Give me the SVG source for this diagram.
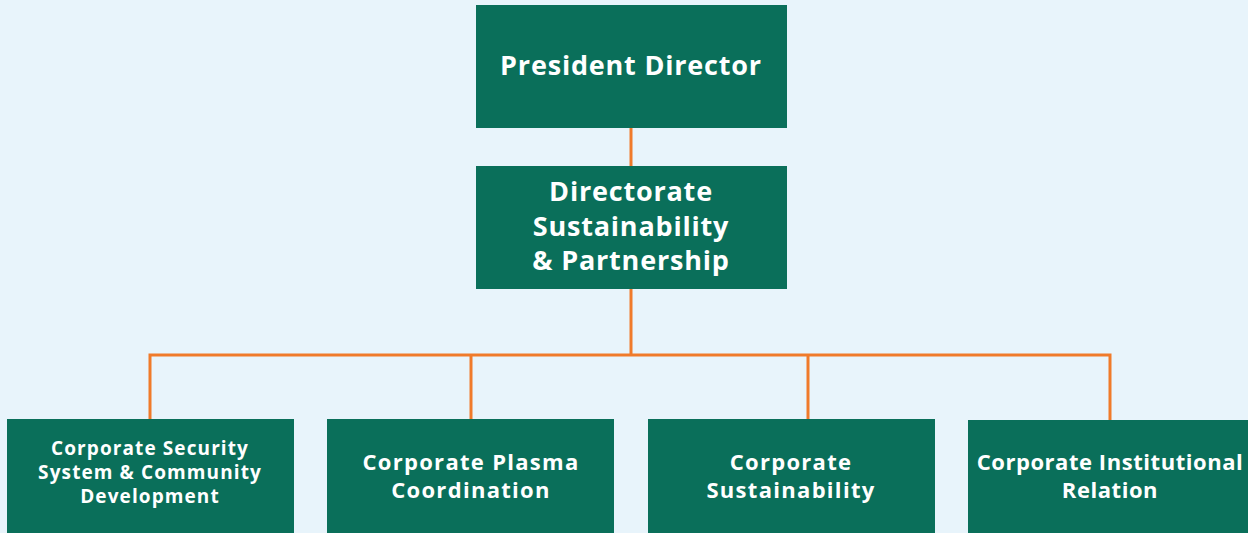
<svg xmlns="http://www.w3.org/2000/svg" width="1248" height="533" viewBox="0 0 1248 533">
<style>
.box{fill:#0a6f5a}
.t{font-family:"Open Sans","Noto Sans",sans-serif;font-weight:700;fill:#ffffff;text-anchor:middle}
.big{font-size:27px;letter-spacing:0.8px}
.mid{font-size:22px;letter-spacing:1.3px}
.inst{font-size:22px;letter-spacing:0.55px}
.sm{font-size:19px;letter-spacing:1.1px}
.c{stroke:#f07a2a;stroke-width:3;fill:none}
</style>
<rect width="1248" height="533" fill="#e8f4fb"/>
<g id="connectors">
<line class="c" x1="631" y1="128" x2="631" y2="166"/>
<line class="c" x1="631" y1="289" x2="631" y2="355"/>
<polyline class="c" points="150,419 150,355 1110,355 1110,420"/>
<line class="c" x1="471" y1="355" x2="471" y2="419"/>
<line class="c" x1="808" y1="355" x2="808" y2="419"/>
</g>
<g id="president">
<rect class="box" x="476" y="5" width="311" height="123"/>
<text class="t big" x="631" y="75">President Director</text>
</g>
<g id="directorate">
<rect class="box" x="476" y="166" width="311" height="123"/>
<text class="t big" x="631" y="201">Directorate</text>
<text class="t big" x="631" y="236">Sustainability</text>
<text class="t big" x="631" y="270">&amp; Partnership</text>
</g>
<g id="security">
<rect class="box" x="7" y="419" width="287" height="114"/>
<text class="t sm" x="150" y="455">Corporate Security</text>
<text class="t sm" x="150" y="479">System &amp; Community</text>
<text class="t sm" x="150" y="503">Development</text>
</g>
<g id="plasma">
<rect class="box" x="327" y="419" width="287" height="114"/>
<text class="t mid" x="471" y="470">Corporate Plasma</text>
<text class="t mid" x="471" y="498">Coordination</text>
</g>
<g id="sustainability">
<rect class="box" x="648" y="419" width="287" height="114"/>
<text class="t mid" x="791" y="470">Corporate</text>
<text class="t mid" x="791" y="498">Sustainability</text>
</g>
<g id="institutional">
<rect class="box" x="968" y="420" width="290" height="113"/>
<text class="t inst" x="1110" y="470">Corporate Institutional</text>
<text class="t inst" x="1110" y="498">Relation</text>
</g>
</svg>
